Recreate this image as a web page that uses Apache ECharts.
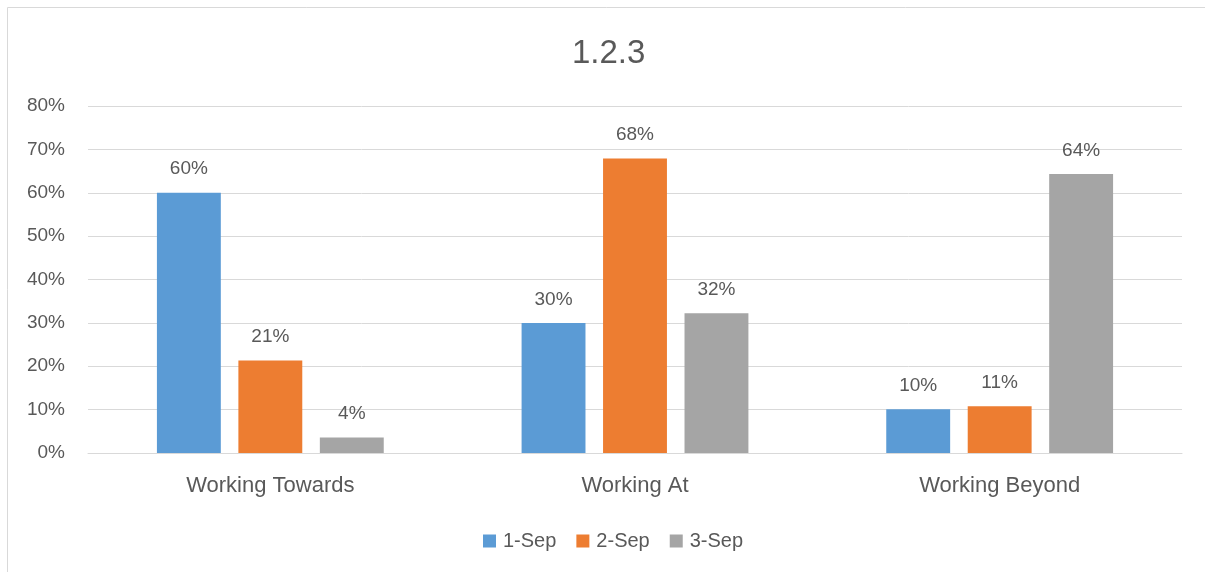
<!DOCTYPE html>
<html>
<head>
<meta charset="utf-8">
<script src="https://cdn.jsdelivr.net/npm/echarts@6/dist/echarts.min.js"></script>
<style>
html,body{margin:0;padding:0;background:#fff;}
#c{width:1205px;height:572px;}
</style>
</head>
<body>
<div id="c"></div>
<script>
var categories = ['Working Towards', 'Working At', 'Working Beyond'];
var seriesNames = ['1-Sep', '2-Sep', '3-Sep'];
var sep1 = [0.600, 0.300, 0.101];
var sep2 = [0.213, 0.679, 0.108];
var sep3 = [0.036, 0.322, 0.643];
var yTicks = [0, 0.1, 0.2, 0.3, 0.4, 0.5, 0.6, 0.7, 0.8];

var colors = ['#5B9BD5', '#ED7D31', '#A5A5A5'];
var font = 'Liberation Sans';
var textColor = '#595959';

function pct(v){ return Math.round(v*100) + '%'; }

var chart = echarts.init(document.getElementById('c'), null, {renderer:'canvas'});
var data = [sep1, sep2, sep3];
var series = seriesNames.map(function(n, i){
  return {
    name: n,
    type: 'bar',
    data: data[i],
    barGap: '27.5%',
    barCategoryGap: '37.8%',
    itemStyle: {color: colors[i]},
    label: {
      show: true,
      position: 'top',
      distance: 14,
      color: textColor,
      fontFamily: font,
      fontSize: 19,
      formatter: function(p){ return pct(p.value); }
    }
  };
});

chart.setOption({
  animation: false,
  color: colors,
  title: {
    text: '1.2.3',
    left: 567,
    top: 32,
    textStyle: {color: textColor, fontFamily: font, fontSize: 33, fontWeight: 'normal'}
  },
  graphic: [
    {type: 'line', shape: {x1: 7.5, y1: 7.5, x2: 1205, y2: 7.5}, style: {stroke: '#d9d9d9', lineWidth: 1}, silent: true},
    {type: 'line', shape: {x1: 7.5, y1: 7.5, x2: 7.5, y2: 572}, style: {stroke: '#d9d9d9', lineWidth: 1}, silent: true}
  ],
  legend: {
    data: seriesNames,
    top: 526,
    left: 478,
    itemWidth: 13,
    itemHeight: 13,
    itemGap: 20,
    icon: 'rect',
    textStyle: {color: textColor, fontFamily: font, fontSize: 20, padding: [0, 0, 0, 2]}
  },
  grid: {left: 88, right: 23, top: 106, bottom: 119, containLabel: false},
  xAxis: {
    type: 'category',
    data: categories,
    axisLine: {lineStyle: {color: '#d9d9d9'}},
    axisTick: {show: false},
    axisLabel: {color: textColor, fontFamily: font, fontSize: 22, margin: 22}
  },
  yAxis: {
    type: 'value',
    min: 0,
    max: 0.8,
    interval: 0.1,
    axisLine: {show: false},
    axisTick: {show: false},
    splitLine: {lineStyle: {color: '#d9d9d9'}},
    axisLabel: {
      color: textColor, fontFamily: font, fontSize: 19, margin: 23,
      formatter: function(v){
        var t = yTicks.filter(function(x){ return Math.abs(x - v) < 1e-9; });
        return t.length ? pct(t[0]) : '';
      }
    }
  },
  series: series
});
</script>
</body>
</html>
